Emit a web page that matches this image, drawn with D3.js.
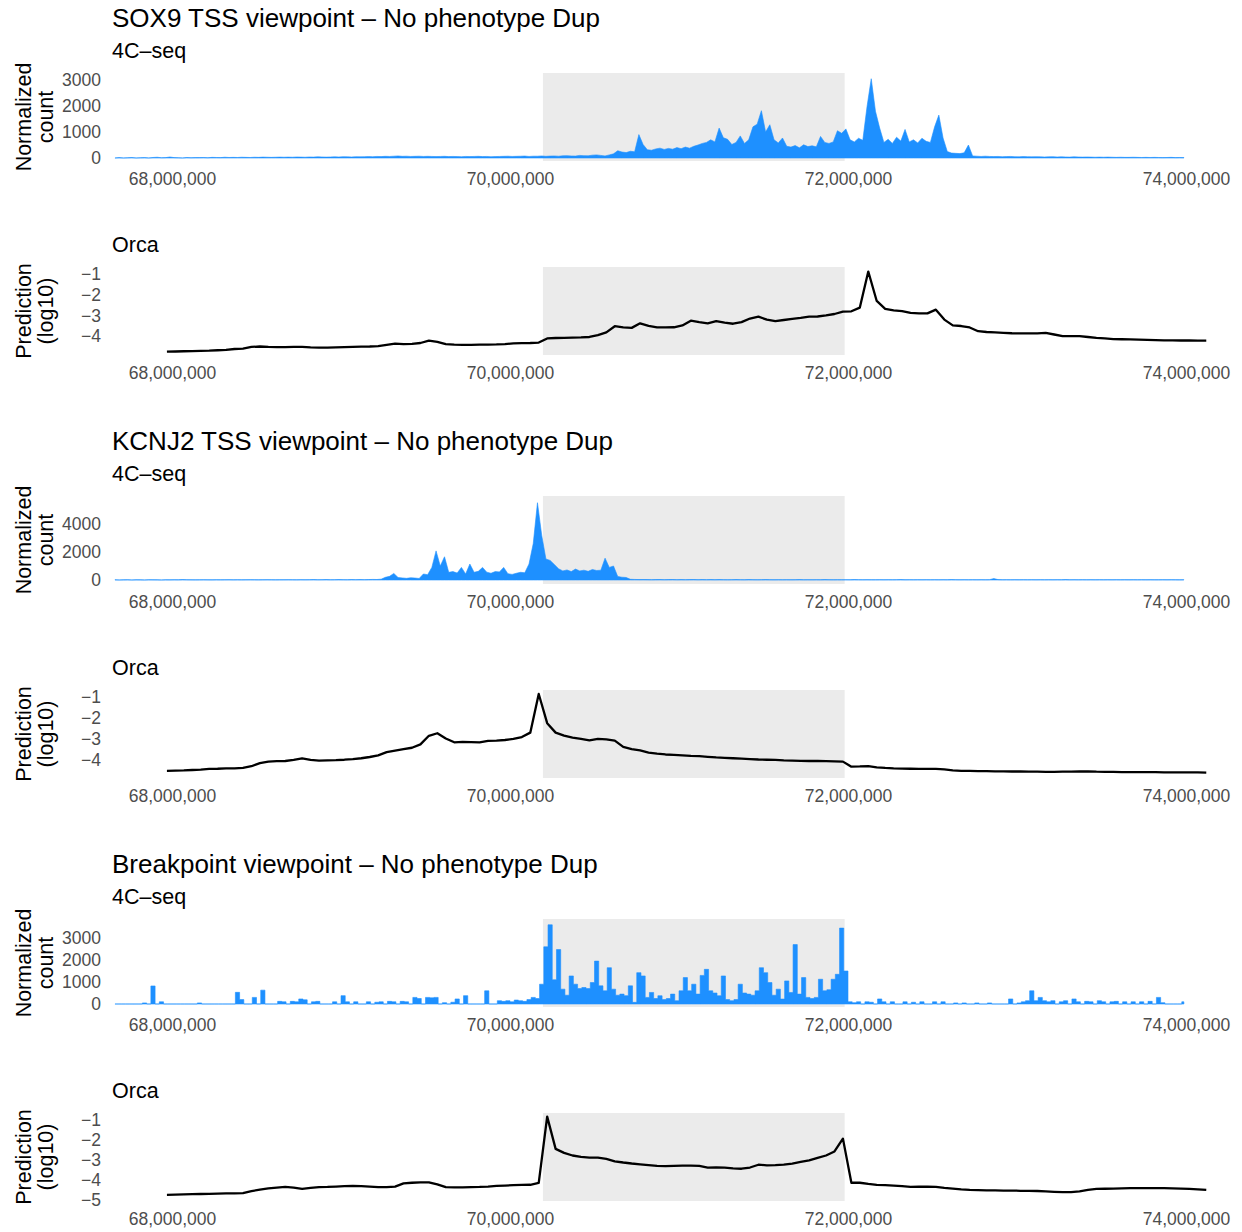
<!DOCTYPE html>
<html>
<head>
<meta charset="utf-8">
<script src="https://cdn.jsdelivr.net/npm/d3@7"></script>
<style>
  body { margin: 0; background: #fff; }
  text { font-family: "Liberation Sans", Arial, Helvetica, sans-serif; }
</style>
</head>
<body>
<script>
// ---- data ----
var groupTitles = ["SOX9 TSS viewpoint \u2013 No phenotype Dup",
                   "KCNJ2 TSS viewpoint \u2013 No phenotype Dup",
                   "Breakpoint viewpoint \u2013 No phenotype Dup"];

var xTicks = [68000000, 70000000, 72000000, 74000000];
var dupRegion = [70195000, 71980000];

// 4C-seq normalized counts, 25 kb bins starting at 67,650,000
var bin4cStart = 67650000, bin4cSize = 25000;

var sox9_4c = [
  0,15,0,10,20,0,10,15,0,20,30,10,15,40,15,10,0,20,10,15,
  15,20,10,25,20,15,30,20,25,20,30,25,20,30,25,35,30,25,30,35,
  30,35,30,40,35,30,40,35,45,40,35,40,45,40,50,45,40,50,45,50,
  55,50,60,55,65,60,70,80,65,70,60,65,70,60,65,60,55,60,65,55,
  60,55,50,60,55,60,65,55,60,50,55,60,65,70,60,65,70,75,60,70,
  70,80,65,75,80,70,85,90,80,75,100,90,85,110,120,100,80,120,160,280,
  230,210,260,240,900,520,320,300,350,380,330,370,340,400,360,420,380,450,500,560,
  600,700,620,1150,780,720,520,600,850,560,700,1200,1300,1820,1000,1280,700,580,770,450,
  420,480,390,510,440,470,430,830,600,560,620,1050,950,1120,700,620,760,680,1970,3050,
  1800,1150,600,720,560,800,650,1100,620,700,580,760,640,600,1200,1650,770,250,190,180,
  170,200,500,80,70,60,70,60,55,60,50,55,60,50,45,55,50,45,50,45,
  40,45,50,40,45,40,35,45,40,35,40,35,30,35,30,35,30,25,30,25,
  25,30,25,20,25,20,25,20,15,20,25,15,20,15
];

var kcnj2_4c = [
  15,0,10,20,0,15,10,0,20,15,10,0,15,10,20,15,30,20,15,10,
  15,20,15,10,20,15,20,25,15,20,15,20,25,20,15,20,25,20,15,20,
  20,25,20,15,25,20,25,30,20,25,30,20,25,30,25,20,30,25,30,25,
  30,40,35,60,190,260,470,180,150,120,160,140,110,430,380,900,2080,1000,1660,550,
  600,500,900,430,1140,550,620,900,560,480,600,580,900,450,400,480,550,520,1140,2600,
  5520,3200,1500,1400,1100,800,650,720,600,780,650,700,620,750,680,700,1560,900,1000,250,
  200,180,50,40,30,35,30,25,30,35,25,30,35,25,30,25,30,35,25,30,
  25,30,25,30,25,20,25,30,25,20,30,25,20,25,30,25,20,25,20,25,
  20,25,30,20,25,20,25,20,30,25,20,25,20,25,20,30,25,20,25,20,
  20,25,20,25,20,25,30,20,25,20,25,20,25,20,25,20,25,20,30,25,
  20,25,20,25,20,25,20,25,100,30,20,25,20,25,20,25,20,25,20,25,
  20,25,20,25,20,30,20,25,20,25,20,25,20,25,20,25,20,25,20,25,
  20,25,20,25,20,25,20,20,25,20,25,20,15,20
];

var bp_4c = [
  0,0,0,0,0,0,0,50,0,820,0,100,0,0,0,0,0,0,0,0,
  50,0,0,0,0,0,0,0,0,530,200,0,0,300,0,630,0,0,0,120,
  100,0,120,100,230,190,0,100,120,0,0,0,100,0,380,100,0,100,0,0,
  100,0,80,100,0,120,100,0,120,100,0,300,250,0,300,280,300,0,60,0,
  80,230,0,380,0,0,0,0,600,0,0,150,120,150,100,180,150,120,200,300,
  250,900,2600,3600,1100,2475,675,400,1275,900,700,750,700,975,1950,825,600,1650,675,400,
  450,380,825,75,1425,1275,300,525,250,375,200,250,450,150,600,1200,600,900,450,1300,
  1575,600,500,375,1275,200,150,200,900,500,450,400,600,1650,1425,975,400,675,225,1050,
  525,2700,450,1200,300,250,300,1125,600,650,1125,1350,3450,1500,100,60,100,0,100,80,
  0,230,100,0,100,0,0,100,0,80,0,100,0,0,100,0,100,0,0,50,
  0,50,0,0,50,0,0,50,0,0,0,0,230,0,50,100,150,600,150,300,
  150,100,150,0,100,150,0,230,100,0,120,100,0,150,100,0,100,120,0,100,
  0,100,0,100,0,120,0,300,60,0,0,0,0,100
];

// Orca predictions (log10), 50 kb steps starting at 67,970,000
var orcaStart = 67970000, orcaStep = 50000;

var sox9_orca = [
  -4.75,-4.74,-4.73,-4.72,-4.71,-4.70,-4.68,-4.66,-4.62,-4.60,
  -4.52,-4.50,-4.52,-4.53,-4.53,-4.52,-4.52,-4.54,-4.55,-4.55,
  -4.54,-4.53,-4.52,-4.51,-4.50,-4.48,-4.42,-4.36,-4.38,-4.37,
  -4.33,-4.22,-4.28,-4.38,-4.41,-4.42,-4.42,-4.41,-4.41,-4.40,
  -4.38,-4.35,-4.34,-4.33,-4.31,-4.11,-4.09,-4.08,-4.07,-4.06,
  -4.04,-3.95,-3.82,-3.52,-3.58,-3.60,-3.38,-3.50,-3.58,-3.58,
  -3.57,-3.48,-3.25,-3.32,-3.38,-3.27,-3.35,-3.40,-3.32,-3.15,
  -3.06,-3.20,-3.27,-3.22,-3.17,-3.12,-3.06,-3.05,-3.00,-2.93,
  -2.82,-2.80,-2.62,-0.88,-2.30,-2.68,-2.75,-2.79,-2.88,-2.90,
  -2.90,-2.72,-3.20,-3.48,-3.51,-3.58,-3.76,-3.80,-3.82,-3.84,
  -3.86,-3.87,-3.87,-3.87,-3.84,-3.92,-4.00,-4.00,-4.00,-4.04,
  -4.08,-4.11,-4.14,-4.15,-4.16,-4.17,-4.18,-4.19,-4.20,-4.20,
  -4.21,-4.21,-4.22,-4.22
];

var kcnj2_orca = [
  -4.52,-4.51,-4.50,-4.48,-4.46,-4.43,-4.42,-4.40,-4.40,-4.38,
  -4.30,-4.15,-4.08,-4.06,-4.05,-4.00,-3.93,-4.00,-4.03,-4.02,
  -4.01,-3.99,-3.96,-3.92,-3.86,-3.78,-3.63,-3.56,-3.49,-3.42,
  -3.26,-2.85,-2.73,-2.98,-3.16,-3.14,-3.15,-3.16,-3.09,-3.08,
  -3.05,-3.00,-2.91,-2.70,-0.86,-2.25,-2.70,-2.84,-2.94,-3.00,
  -3.07,-3.00,-3.02,-3.08,-3.38,-3.48,-3.55,-3.65,-3.70,-3.74,
  -3.76,-3.78,-3.81,-3.82,-3.85,-3.88,-3.90,-3.92,-3.94,-3.96,
  -3.98,-3.99,-4.00,-4.02,-4.03,-4.04,-4.05,-4.05,-4.06,-4.07,
  -4.08,-4.32,-4.31,-4.29,-4.35,-4.38,-4.40,-4.41,-4.42,-4.43,
  -4.43,-4.43,-4.45,-4.50,-4.52,-4.52,-4.53,-4.53,-4.54,-4.54,
  -4.55,-4.55,-4.56,-4.56,-4.57,-4.57,-4.56,-4.56,-4.55,-4.54,
  -4.56,-4.57,-4.57,-4.58,-4.58,-4.58,-4.58,-4.58,-4.59,-4.59,
  -4.59,-4.59,-4.59,-4.60
];

var bp_orca = [
  -4.74,-4.73,-4.72,-4.71,-4.70,-4.69,-4.68,-4.67,-4.67,-4.66,
  -4.56,-4.48,-4.42,-4.38,-4.35,-4.38,-4.45,-4.40,-4.36,-4.35,
  -4.33,-4.31,-4.30,-4.31,-4.33,-4.36,-4.36,-4.33,-4.17,-4.14,
  -4.12,-4.12,-4.22,-4.36,-4.37,-4.37,-4.36,-4.35,-4.33,-4.30,
  -4.28,-4.26,-4.25,-4.24,-4.15,-0.84,-2.45,-2.65,-2.78,-2.85,
  -2.89,-2.89,-2.95,-3.07,-3.13,-3.18,-3.22,-3.26,-3.30,-3.31,
  -3.30,-3.29,-3.29,-3.30,-3.39,-3.37,-3.39,-3.42,-3.44,-3.38,
  -3.24,-3.27,-3.26,-3.24,-3.18,-3.10,-3.02,-2.90,-2.78,-2.58,
  -1.94,-4.14,-4.14,-4.20,-4.25,-4.26,-4.28,-4.31,-4.35,-4.34,
  -4.33,-4.35,-4.40,-4.43,-4.47,-4.50,-4.51,-4.52,-4.52,-4.53,
  -4.53,-4.54,-4.54,-4.55,-4.57,-4.59,-4.61,-4.61,-4.57,-4.50,
  -4.45,-4.44,-4.43,-4.42,-4.41,-4.41,-4.41,-4.41,-4.41,-4.42,
  -4.43,-4.45,-4.47,-4.50
];

var countTicks = [[0, 1000, 2000, 3000], [0, 2000, 4000], [0, 1000, 2000, 3000]];
var orcaTicks = [[-4, -3, -2, -1], [-4, -3, -2, -1], [-5, -4, -3, -2, -1]];
var countDomains = [[-115, 3270], [-286, 6000], [-136, 3864]];
var orcaDomains = [[-4.91, -0.66], [-4.86, -0.67], [-5.05, -0.66]];

var fourC = [sox9_4c, kcnj2_4c, bp_4c];
var orca = [sox9_orca, kcnj2_orca, bp_orca];
// dense tracks look spiky, the sparse breakpoint track looks like bars
var fourCCurves = [d3.curveLinear, d3.curveLinear, d3.curveStep];

// ---- layout ----
var width = 1242, height = 1232;
var panelH = 88, groupStep = 423;
var axisX = 106;

var svg = d3.select("body").append("svg")
    .attr("width", width)
    .attr("height", height);

var x = d3.scaleLinear().domain([68000000, 74000000]).range([172, 1186]);

var grey = "#4d4d4d";

function drawPanel(top, label, yTitle, yScale, ticks) {
  var g = svg.append("g");

  g.append("rect")
    .attr("x", x(dupRegion[0]))
    .attr("width", x(dupRegion[1]) - x(dupRegion[0]))
    .attr("y", top)
    .attr("height", panelH)
    .attr("fill", "#ebebeb");

  g.append("text")
    .attr("x", 112).attr("y", top - 15)
    .attr("font-size", 21.5)
    .text(label);

  var ya = g.append("g")
    .attr("transform", "translate(" + axisX + ",0)")
    .call(d3.axisLeft(yScale).tickValues(ticks).tickSize(0).tickPadding(5)
          .tickFormat(d3.format("d")));
  ya.select(".domain").remove();
  ya.selectAll("text")
    .attr("font-size", 17.5)
    .attr("font-family", "Liberation Sans, Arial, sans-serif")
    .attr("fill", grey);

  var xa = g.append("g")
    .attr("transform", "translate(0," + (top + panelH) + ")")
    .call(d3.axisBottom(x).tickValues(xTicks).tickSize(0).tickPadding(11.5)
          .tickFormat(d3.format(",")));
  xa.select(".domain").remove();
  xa.selectAll("text")
    .attr("font-size", 17.5)
    .attr("font-family", "Liberation Sans, Arial, sans-serif")
    .attr("fill", grey);

  var t = g.append("text")
    .attr("transform", "translate(31," + (top + panelH / 2) + ") rotate(-90)")
    .attr("text-anchor", "middle")
    .attr("font-size", 21.5);
  t.append("tspan").attr("x", 0).attr("y", 0).text(yTitle[0]);
  t.append("tspan").attr("x", 0).attr("y", 22).text(yTitle[1]);

  return g;
}

for (var k = 0; k < 3; k++) {
  var top4c = 73 + k * groupStep;
  var topOrca = 267 + k * groupStep;

  svg.append("text")
    .attr("x", 112).attr("y", top4c - 46)
    .attr("font-size", 26)
    .text(groupTitles[k]);

  // 4C-seq
  var y4 = d3.scaleLinear().domain(countDomains[k]).range([top4c + panelH, top4c]);
  var g4 = drawPanel(top4c, "4C\u2013seq", ["Normalized", "count"], y4, countTicks[k]);
  var area = d3.area()
    .curve(fourCCurves[k])
    .x(function(d, i) { return x(bin4cStart + i * bin4cSize + bin4cSize / 2); })
    .y0(y4(0))
    .y1(function(d) { return y4(d); });
  g4.append("path")
    .datum(fourC[k])
    .attr("d", area)
    .attr("fill", "dodgerblue")
    .attr("stroke", "dodgerblue")
    .attr("stroke-width", 0.6);

  // Orca
  var yo = d3.scaleLinear().domain(orcaDomains[k]).range([topOrca + panelH, topOrca]);
  var go = drawPanel(topOrca, "Orca", ["Prediction", "(log10)"], yo, orcaTicks[k]);
  var line = d3.line()
    .x(function(d, i) { return x(orcaStart + i * orcaStep); })
    .y(function(d) { return yo(d); });
  go.append("path")
    .datum(orca[k])
    .attr("d", line)
    .attr("fill", "none")
    .attr("stroke", "black")
    .attr("stroke-width", 2.3)
    .attr("stroke-linejoin", "round");
}
</script>
</body>
</html>
